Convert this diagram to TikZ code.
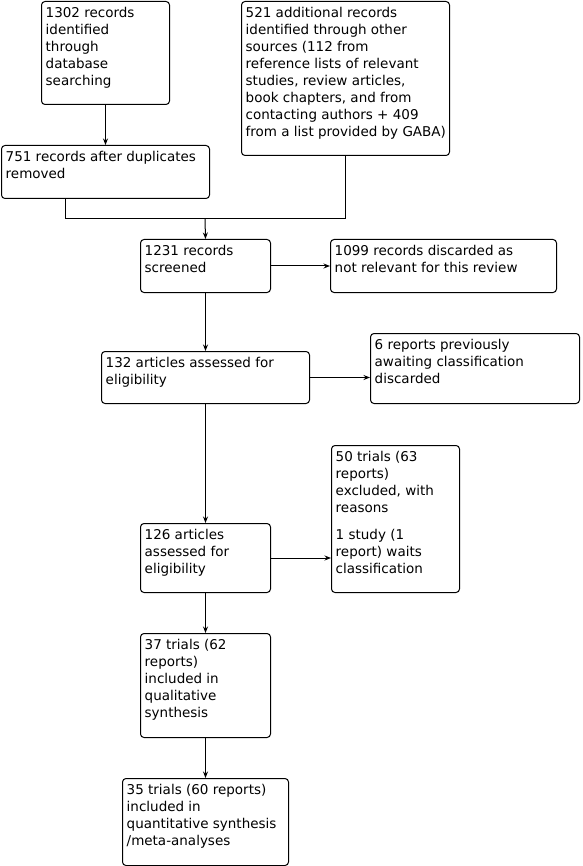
\documentclass[tikz,border=0pt]{standalone}
\usepackage{fontspec}
\setmainfont{DejaVu Sans}
\usetikzlibrary{arrows.meta}
\begin{document}
\begin{tikzpicture}[x=1pt,y=-1pt,
  box/.style={draw, rounded corners=3.5pt, line width=1pt, inner sep=0pt, anchor=north west},
  txt/.style={anchor=north west, inner sep=0pt, align=left, font=\fontsize{13.5}{17}\selectfont},
  arr/.style={-{Stealth[length=6.5pt,width=5pt]}, line width=1pt},
  ln/.style={line width=1pt}]
\useasboundingbox (0,0) rectangle (582,866);
% boxes
\node[box, minimum width=128pt, minimum height=103pt] (A) at (41,1) {};
\node[box, minimum width=208pt, minimum height=53pt] (B) at (1,145) {};
\node[box, minimum width=208pt, minimum height=154pt] (C) at (241,1) {};
\node[box, minimum width=130pt, minimum height=53pt] (D) at (140,239) {};
\node[box, minimum width=226pt, minimum height=53pt] (E) at (330,239) {};
\node[box, minimum width=208pt, minimum height=52pt] (F) at (101,351) {};
\node[box, minimum width=209pt, minimum height=70pt] (G) at (370,333) {};
\node[box, minimum width=130pt, minimum height=69pt] (H) at (140,523) {};
\node[box, minimum width=128pt, minimum height=147pt] (I) at (331,445) {};
\node[box, minimum width=130pt, minimum height=104pt] (J) at (140,633) {};
\node[box, minimum width=166pt, minimum height=87pt] (K) at (122,778) {};
% texts
\node[txt] (tA) at ([shift={(4.5,6.5)}]A.north west) {1302 records\\identified\\through\\database\\searching};
\node[txt] (tB) at ([shift={(4.5,6.5)}]B.north west) {751 records after duplicates\\removed};
\node[txt] (tC) at ([shift={(4.5,6.5)}]C.north west) {521 additional records\\identified through other\\sources (112 from\\reference lists of relevant\\studies, review articles,\\book chapters, and from\\contacting authors + 409\\from a list provided by GABA)};
\node[txt] (tD) at ([shift={(4.5,6.5)}]D.north west) {1231 records\\screened};
\node[txt] (tE) at ([shift={(4.5,6.5)}]E.north west) {1099 records discarded as\\not relevant for this review};
\node[txt] (tF) at ([shift={(4.5,6.5)}]F.north west) {132 articles assessed for\\eligibility};
\node[txt] (tG) at ([shift={(4.5,6.5)}]G.north west) {6 reports previously\\awaiting classification\\discarded};
\node[txt] (tH) at ([shift={(4.5,6.5)}]H.north west) {126 articles\\assessed for\\eligibility};
\node[txt] (tI) at ([shift={(4.5,6.5)}]I.north west) {50 trials (63\\reports)\\excluded, with\\reasons\\[10pt]1 study (1\\report) waits\\classification};
\node[txt] (tJ) at ([shift={(4.5,6.5)}]J.north west) {37 trials (62\\reports)\\included in\\qualitative\\synthesis};
\node[txt] (tK) at ([shift={(4.5,6.5)}]K.north west) {35 trials (60 reports)\\included in\\quantitative synthesis\\/meta-analyses};
% connectors
\coordinate (m) at (205,219);
\draw[arr] (A) -- (B);
\draw[ln] ([xshift=-40pt]B.south) |- (m);
\draw[ln] (C.south) |- (m);
\draw[arr] (m) -- (D.north);
\draw[arr] (D) -- (E);
\draw[arr] (D) -- (F);
\draw[arr] (F.east) -- (F.east -| G.west);
\draw[arr] (F) -- (H);
\draw[arr] (H.east) -- (H.east -| I.west);
\draw[arr] (H) -- (J);
\draw[arr] (J) -- (K);
\end{tikzpicture}
\end{document}
